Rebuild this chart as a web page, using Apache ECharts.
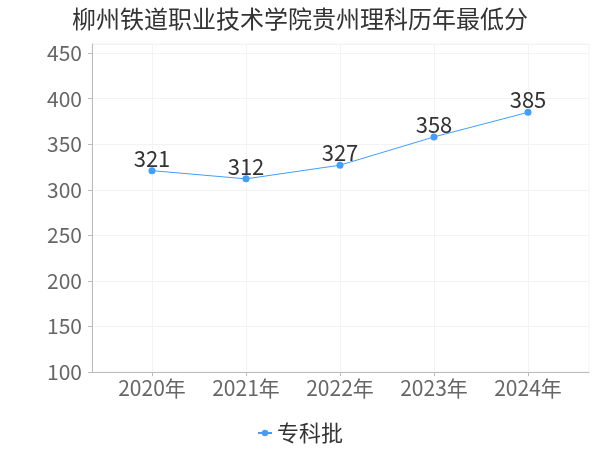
<!DOCTYPE html>
<html><head><meta charset="utf-8">
<script src="https://cdn.jsdelivr.net/npm/echarts@6/dist/echarts.min.js"></script>
<style>html,body{margin:0;padding:0;background:#fff}#c{width:600px;height:450px}</style>
</head><body><div id="c"></div>
<script>
var titleText = '柳州铁道职业技术学院贵州理科历年最低分';
var categories = ['2020年', '2021年', '2022年', '2023年', '2024年'];
var seriesName = '专科批';
var scores = [321, 312, 327, 358, 385];
var yTicks = { min: 100, max: 460, interval: 50 };

var FONT = '"Noto Sans CJK SC", sans-serif';
var chart = echarts.init(document.getElementById('c'));
var lineColor = '#409EFF';
chart.setOption({
  animation: false,
  textStyle: { fontFamily: FONT },
  title: { text: titleText, left: 'center', top: 2,
    textStyle: { fontSize: 24, fontWeight: 'normal', color: '#333', fontFamily: FONT } },
  legend: { bottom: 1, left: 'center', itemWidth: 14, itemHeight: 8, itemGap: 10,
    textStyle: { fontSize: 22, color: '#333', fontFamily: FONT }, data: [seriesName] },
  grid: [
    { left: 92, right: 11, top: 44, bottom: 78, show: true, borderColor: '#f3f3f3', borderWidth: 1, containLabel: false },
    { left: 152, right: 72, top: 44, bottom: 78, containLabel: false }
  ],
  xAxis: [
    { gridIndex: 0, type: 'value', min: 0, max: 1, show: true,
      axisLine: { show: true, lineStyle: { color: '#bbb' } },
      axisTick: { show: false }, axisLabel: { show: false }, splitLine: { show: false } },
    { gridIndex: 1, type: 'category', data: categories, boundaryGap: false,
      axisLine: { show: false },
      axisTick: { show: true, length: 4, lineStyle: { color: '#bbb' } },
      axisLabel: { fontSize: 21, color: '#666', margin: 6, fontFamily: FONT },
      splitLine: { show: true, lineStyle: { color: '#f3f3f3' } } }
  ],
  yAxis: [
    { gridIndex: 0, type: 'value', min: yTicks.min, max: yTicks.max, interval: yTicks.interval, offset: 4,
      axisLine: { show: true, lineStyle: { color: '#bbb' } },
      axisTick: { show: true, length: 4, lineStyle: { color: '#bbb' } },
      axisLabel: { fontSize: 21, color: '#666', margin: 6, showMaxLabel: false, fontFamily: FONT },
      splitLine: { show: true, lineStyle: { color: '#f3f3f3' } } },
    { gridIndex: 1, type: 'value', min: yTicks.min, max: yTicks.max, interval: yTicks.interval, show: false }
  ],
  series: [{
    name: seriesName, type: 'line', xAxisIndex: 1, yAxisIndex: 1, data: scores,
    symbol: 'circle', symbolSize: 7,
    itemStyle: { color: lineColor }, lineStyle: { color: lineColor, width: 1 },
    label: { show: true, position: 'top', fontSize: 22, color: '#333', distance: -2, fontFamily: FONT }
  }]
});
</script></body></html>
